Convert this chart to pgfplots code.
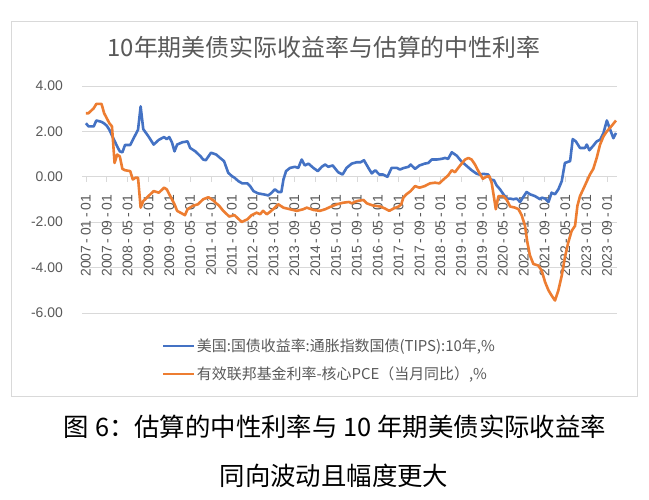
\documentclass[border=0pt]{standalone}
\usepackage{fontspec}
\setmainfont{Liberation Sans}
\newfontfamily\cjk{Noto Sans CJK SC}
\usepackage{pgfplots}
\pgfplotsset{compat=1.18}
\definecolor{tblue}{HTML}{4472C4}
\definecolor{torange}{HTML}{ED7D31}
\definecolor{tgray}{HTML}{595959}
\definecolor{ggray}{HTML}{D9D9D9}
\newcommand{\dt}[2]{#1\kern2.6bp-\kern2.6bp#2\kern2.6bp-\kern2.6bp01}
\begin{document}
\begin{tikzpicture}[x=1bp,y=1bp]
\useasboundingbox (0,0) rectangle (649,500);
\fill[white] (0,0) rectangle (649,500);
\draw[ggray, line width=0.8bp] (11,104) rectangle (637,479);
\node[text=tgray, font=\cjk\fontsize{24}{28}\selectfont] at (324,453) {10年期美债实际收益率与估算的中性利率};
\begin{axis}[at={(82bp,187bp)}, anchor=south west, width=535bp, height=227bp, scale only axis,
  xmin=-1.5, xmax=203.8, ymin=-6, ymax=4,
  axis x line=middle, axis y line=left,
  axis line style={-, ggray, line width=0.8bp}, y axis line style={draw=none},
  xtick={0,8,...,200},
  xticklabels={\dt{2007}{01},\dt{2007}{09},\dt{2008}{05},\dt{2009}{01},\dt{2009}{09},\dt{2010}{05},\dt{2011}{01},\dt{2011}{09},\dt{2012}{05},\dt{2013}{01},\dt{2013}{09},\dt{2014}{05},\dt{2015}{01},\dt{2015}{09},\dt{2016}{05},\dt{2017}{01},\dt{2017}{09},\dt{2018}{05},\dt{2019}{01},\dt{2019}{09},\dt{2020}{05},\dt{2021}{01},\dt{2021}{09},\dt{2022}{05},\dt{2023}{01},\dt{2023}{09}},
  ytick={-6,-4,-2,0,2,4},
  yticklabels={-6.00,-4.00,-2.00,0.00,2.00,4.00},
  ymajorgrids, grid style={ggray, line width=0.8bp},
  tick label style={text=tgray, font=\fontsize{14}{16}\selectfont},
  xticklabel style={rotate=90, anchor=east, inner sep=0pt},
  xticklabel shift=13bp,
  yticklabel style={anchor=east, inner sep=0pt},
  yticklabel shift=14bp,
  xtick style={ggray, line width=0.8bp}, ytick style={draw=none},
  major tick length=5bp, tick align=outside,
  legend style={at={(rel axis cs:0.1495,-0.105)}, anchor=north west, draw=none, fill=none,
    font=\cjk\fontsize{15}{18}\selectfont, row sep=10bp, inner sep=0pt},
  legend cell align=left,
  legend image code/.code={\draw[#1, line width=1.8bp] (0bp,0bp) -- (31bp,0bp);},
]
\addplot[color=tblue, line width=2.6bp, line join=round] coordinates {
(0,2.36)(1,2.22)(3,2.22)(4,2.48)(6,2.42)(7,2.35)(8,2.25)(9,2.07)(10.5,1.70)(12,1.34)(13,1.12)(14,1.08)(15,1.40)(17,1.40)(18,1.63)(20,2.07)(21,3.10)(22,2.10)(24,1.78)(26,1.42)(28,1.63)(30,1.75)(31,1.66)(32,1.75)(33,1.52)(34,1.12)(35,1.42)(37,1.52)(39,1.56)(40,1.27)(42,1.12)(44,0.90)(45,0.76)(46,0.73)(48,1.06)(50,0.98)(51.5,0.83)(53,0.69)(54.6,0.18)(56,0.03)(57,-0.04)(58.5,-0.19)(60,-0.29)(62,-0.29)(63,-0.41)(64.3,-0.63)(66,-0.73)(68,-0.77)(70,-0.82)(71.3,-0.70)(72.5,-0.55)(73.8,-0.67)(75,-0.67)(75.8,-0.12)(76.8,0.25)(78.3,0.39)(80.2,0.44)(81.5,0.39)(82.8,0.76)(84,0.50)(85.4,0.58)(87.3,0.39)(89,0.25)(90.5,0.44)(91.8,0.54)(93,0.44)(94.7,0.50)(96.8,0.20)(98.5,0.10)(100,0.39)(102,0.58)(103.9,0.64)(105.4,0.64)(106.7,0.73)(108.4,0.39)(109.7,0.15)(111,0.29)(112.6,0.10)(114,0.10)(115.7,0.00)(117.3,0.39)(119.3,0.39)(120.5,0.32)(122,0.39)(123.8,0.44)(124.6,0.54)(126.3,0.35)(128,0.50)(130,0.58)(131.4,0.61)(132.7,0.76)(134.6,0.76)(136.5,0.79)(137.8,0.83)(139,0.79)(140.4,1.08)(142.3,0.93)(144,0.69)(146.2,0.47)(148,0.29)(150,0.13)(151,0.10)(152.5,0.13)(154.4,0.10)(155.3,-0.12)(156.6,-0.15)(157.6,-0.38)(158.9,-0.55)(160.2,-0.77)(161.5,-0.96)(162.8,-0.96)(164,-0.99)(165.3,-0.96)(166.6,-1.11)(167.9,-0.88)(169.1,-0.67)(170.4,-0.77)(172.3,-0.85)(174.3,-0.99)(174.9,-0.92)(176.2,-0.96)(177.5,-1.11)(178.7,-0.70)(180,-0.77)(181.3,-0.55)(182.6,-0.19)(183.8,0.61)(185.8,0.69)(186.8,1.66)(188,1.56)(189.6,1.27)(191.5,1.27)(192.2,1.42)(193.2,1.17)(194.7,1.37)(196,1.56)(197.3,1.63)(198.6,1.93)(199.9,2.48)(201.2,2.07)(202.4,1.70)(203.4,1.93)
};
\addlegendentry{\textcolor{tgray}{美国:国债收益率:通胀指数国债(TIPS):10年,\%}}
\addplot[color=torange, line width=2.6bp, line join=round] coordinates {
(0,2.80)(1,2.80)(3,3.02)(4,3.21)(6,3.21)(7,2.80)(9,2.36)(10,2.22)(11,0.61)(12,0.98)(13,0.90)(14,0.35)(15,0.29)(17,0.25)(18,-0.12)(19,-0.04)(20,-0.04)(21,-1.36)(22,-1.07)(24,-0.85)(26,-0.63)(28,-0.70)(30,-0.48)(31,-0.55)(32,-0.77)(34,-1.21)(35,-1.50)(38,-1.69)(39,-1.43)(41,-1.28)(43,-1.21)(45,-0.99)(47,-0.90)(49,-1.05)(50,-1.17)(51,-1.26)(52.7,-1.50)(55,-1.75)(57,-1.69)(59.8,-1.99)(62,-1.87)(63.6,-1.69)(65.5,-1.58)(66.8,-1.65)(68,-1.50)(69.4,-1.65)(70.6,-1.55)(72.5,-1.36)(73.8,-1.21)(75.8,-1.36)(78.3,-1.43)(80.9,-1.50)(83.4,-1.43)(84.7,-1.36)(87.3,-1.46)(89.8,-1.50)(91.8,-1.43)(93.7,-1.33)(96.3,-1.21)(98.8,-1.14)(101,-1.11)(102,-1.17)(104,-1.07)(106.5,-1.02)(107.8,-1.17)(110,-1.26)(113,-1.31)(114.8,-1.40)(116.4,-1.50)(118,-1.40)(120,-1.31)(121,-1.21)(121.8,-0.92)(123,-0.77)(124.6,-0.63)(126.3,-0.41)(128,-0.48)(130,-0.41)(132,-0.29)(134,-0.26)(135.6,-0.29)(137.2,-0.12)(139,0.06)(140.4,0.29)(141.6,0.20)(143.6,0.50)(145.5,0.76)(146.8,0.83)(148,0.76)(149.3,0.54)(150.6,0.25)(152.3,-0.09)(153.6,0.00)(154.8,0.03)(155.7,-0.26)(156.4,-0.77)(157.3,-1.43)(158.3,-0.85)(160.2,-0.85)(161.5,-1.02)(162.8,-1.31)(164.7,-1.36)(166,-1.43)(167.2,-1.69)(168.5,-2.16)(169.4,-2.89)(170.4,-3.47)(171.7,-3.84)(173.6,-3.91)(174.9,-4.13)(176.2,-4.64)(177.5,-5.00)(178.7,-5.23)(180,-5.45)(181.3,-5.00)(182.6,-4.35)(183.8,-3.55)(185.1,-2.89)(186.4,-2.38)(187.7,-2.16)(188.6,-1.28)(189.6,-0.85)(191.5,-0.38)(193.4,0.10)(194.7,0.35)(196,0.83)(197.3,1.42)(198.6,1.78)(199.9,2.00)(201.8,2.25)(203.4,2.48)
};
\addlegendentry{\textcolor{tgray}{有效联邦基金利率-核心PCE（当月同比）,\%}}
\end{axis}
\node[font=\cjk\fontsize{25.5}{28}\selectfont] at (335,73) {图 6：估算的中性利率与 10 年期美债实际收益率};
\node[font=\cjk\fontsize{25.5}{28}\selectfont] at (334,24) {同向波动且幅度更大};
\end{tikzpicture}
\end{document}
